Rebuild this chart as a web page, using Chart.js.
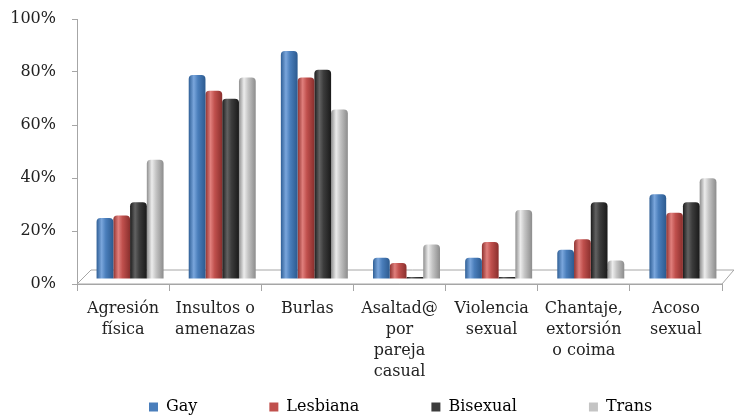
<!DOCTYPE html>
<html>
<head>
<meta charset="utf-8">
<script src="https://cdn.jsdelivr.net/npm/chart.js@4.4.0/dist/chart.umd.min.js"></script>
<style>
  html, body { margin: 0; padding: 0; background: #ffffff; }
  #wrap { width: 734px; height: 419px; position: relative; }
</style>
</head>
<body>
<div id="wrap"><canvas id="c" width="734" height="419"></canvas></div>
<script>
const categories = [
  ["Agresión", "física"],
  ["Insultos o", "amenazas"],
  ["Burlas"],
  ["Asaltad@", "por", "pareja", "casual"],
  ["Violencia", "sexual"],
  ["Chantaje,", "extorsión", "o coima"],
  ["Acoso", "sexual"]
];
const seriesNames = ["Gay", "Lesbiana", "Bisexual", "Trans"];
const gay      = [23, 77, 86, 8, 8, 11, 32];
const lesbiana = [24, 71, 76, 6, 14, 15, 25];
const bisexual = [29, 68, 79, 0, 0, 29, 29];
const trans    = [45, 76, 64, 13, 26, 7, 38];
const yTicks = [0, 20, 40, 60, 80, 100];

const seriesColors = [
  ["#2f5f96", "#7aa6dc", "#4a7ebb", "#2c5a8f"],
  ["#8f3230", "#e07f7c", "#c0504d", "#8a2f2d"],
  ["#1c1c1c", "#626262", "#3c3c3c", "#1a1a1a"],
  ["#8f8f8f", "#ececec", "#c4c4c4", "#8c8c8c"]
];

const DEPTH_X = 7, DEPTH_Y = 5;
const LEGEND_PAD = 72;
const LEGEND_FONT = 16;

const floorPlugin = {
  id: 'floor',
  beforeDatasetsDraw(chart) {
    const ctx = chart.ctx, a = chart.chartArea;
    const y0 = chart.scales.y.getPixelForValue(0);
    ctx.save();
    ctx.strokeStyle = '#a6a6a6';
    ctx.lineWidth = 1;
    ctx.fillStyle = '#ffffff';
    ctx.beginPath();
    ctx.moveTo(a.left, y0);
    ctx.lineTo(a.left + DEPTH_X * 2, y0 - DEPTH_Y * 2.8);
    ctx.lineTo(a.right + DEPTH_X * 1.7, y0 - DEPTH_Y * 2.8);
    ctx.lineTo(a.right, y0);
    ctx.closePath();
    ctx.fill();
    ctx.stroke();
    ctx.restore();
  }
};

const barShading = {
  id: 'barShading',
  beforeDatasetsDraw(chart) {
    const ctx = chart.ctx;
    chart.data.datasets.forEach((ds, di) => {
      const meta = chart.getDatasetMeta(di);
      const cols = seriesColors[di];
      meta.data.forEach(el => {
        const w = el.width;
        const g = ctx.createLinearGradient(el.x - w / 2, 0, el.x + w / 2, 0);
        g.addColorStop(0, cols[0]);
        g.addColorStop(0.3, cols[1]);
        g.addColorStop(0.55, cols[2]);
        g.addColorStop(1, cols[3]);
        el.options = Object.assign({}, el.options, { backgroundColor: g });
      });
    });
    ctx.save();
    ctx.translate(DEPTH_X, -DEPTH_Y);
  },
  afterDatasetsDraw(chart) {
    chart.ctx.restore();
  }
};

const legendFix = {
  id: 'legendFix',
  afterInit(chart) {
    const lg = chart.legend;
    const f = lg.fit;
    lg.fit = function () { f.call(this); this.height = 30; };
  },
  afterLayout(chart) {
    const lg = chart.legend;
    lg.left = 77;
    lg.right = chart.width;
    lg.top = 407 - LEGEND_PAD - LEGEND_FONT / 2;
  }
};

const allSeries = [gay, lesbiana, bisexual, trans];

new Chart(document.getElementById('c'), {
  type: 'bar',
  data: {
    labels: categories,
    datasets: seriesNames.map((n, i) => ({
      label: n,
      data: allSeries[i],
      backgroundColor: (c) => seriesColors[c.datasetIndex][2],
      borderWidth: 0,
      borderRadius: { topLeft: 4, topRight: 4 },
      borderSkipped: 'bottom',
      minBarLength: 2,
      categoryPercentage: 0.727,
      barPercentage: 1.0
    }))
  },
  options: {
    responsive: false,
    animation: false,
    devicePixelRatio: 1,
    layout: { padding: { top: 19, right: 12, left: 0, bottom: 0 } },
    plugins: {
      tooltip: { enabled: false },
      legend: {
        position: 'bottom',
        align: 'start',
        labels: {
          boxWidth: 9,
          boxHeight: 9,
          padding: LEGEND_PAD,
          color: '#222',
          font: { family: 'DejaVu Serif', size: LEGEND_FONT },
          generateLabels(chart) {
            return chart.data.datasets.map((ds, i) => ({
              text: ds.label,
              fillStyle: seriesColors[i][2],
              strokeStyle: seriesColors[i][2],
              lineWidth: 0,
              datasetIndex: i,
              hidden: false
            }));
          }
        }
      }
    },
    scales: {
      x: {
        offset: true,
        afterFit(s) { s.height = 105; },
        grid: {
          offset: true,
          drawOnChartArea: false,
          drawTicks: true,
          tickLength: 7,
          color: '#a6a6a6'
        },
        border: { color: '#a6a6a6' },
        ticks: {
          color: '#222',
          font: { family: 'DejaVu Serif', size: 16, lineHeight: 1.32 },
          padding: 7,
          maxRotation: 0,
          autoSkip: false
        }
      },
      y: {
        min: 0,
        max: 100,
        afterFit(s) { s.width = 77; s.paddingTop = 0; s.paddingBottom = 0; },
        afterBuildTicks(s) { s.ticks = yTicks.map(v => ({ value: v })); },
        grid: {
          drawOnChartArea: false,
          drawTicks: true,
          tickLength: 5,
          color: '#a6a6a6'
        },
        border: { color: '#a6a6a6' },
        ticks: {
          color: '#222',
          font: { family: 'DejaVu Serif', size: 16 },
          padding: 16,
          callback: v => v + '%'
        }
      }
    }
  },
  plugins: [floorPlugin, barShading, legendFix]
});
</script>
</body>
</html>
